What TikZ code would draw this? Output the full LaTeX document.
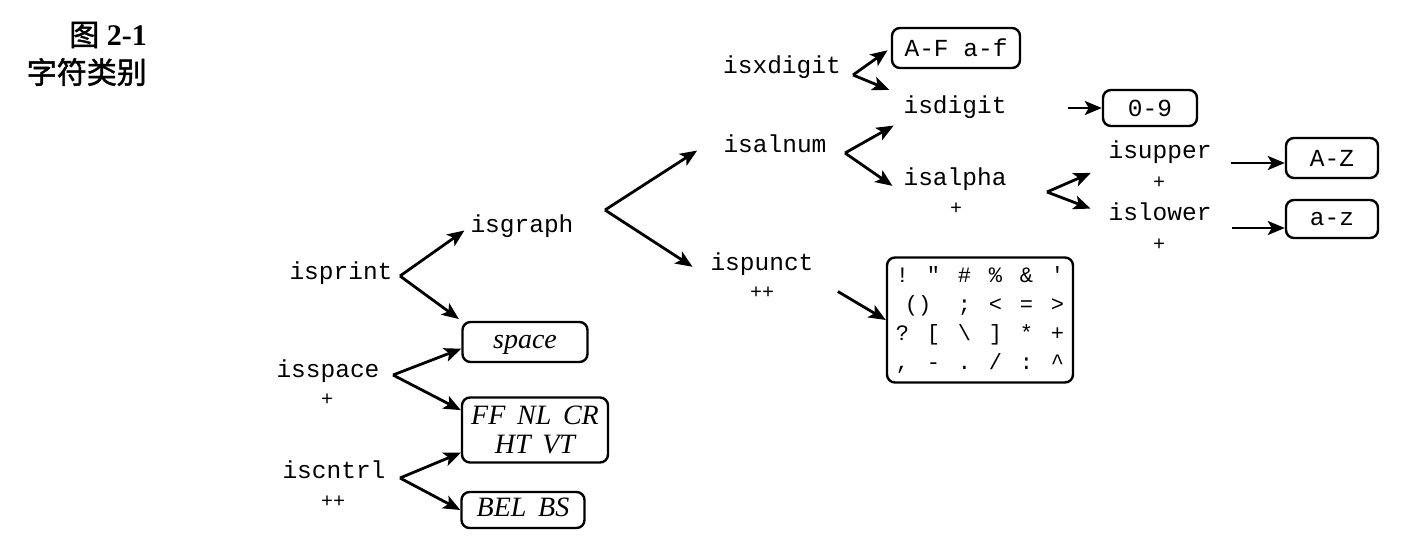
\documentclass[tikz,border=0pt]{standalone}
\usepackage{fontspec}
\setmainfont{Liberation Serif}
\setmonofont{Liberation Mono}
\newfontfamily\cjk[FakeBold=1.5]{Noto Sans CJK SC}
\usetikzlibrary{arrows.meta,calc}
\begin{document}
\begin{tikzpicture}[x=1pt,y=-1pt,
  lbl/.style={font=\ttfamily\fontsize{24.5}{28}\selectfont, inner sep=1pt, text height=17pt, text depth=6pt},
  plus/.style={font=\ttfamily\fontsize{20}{22}\selectfont, inner sep=0pt},
  rbox/.style={draw, line width=2.4pt, rounded corners=8pt, inner sep=0pt, align=center},
  monobox/.style={rbox, font=\ttfamily\fontsize{24.5}{28}\selectfont},
  itbox/.style={rbox, font=\itshape\fontsize{28}{29}\selectfont},
  oneline/.style={text height=19pt, text depth=6pt},
  arr/.style={-{Stealth[length=17pt,width=14pt,inset=4pt]}, line width=2.8pt, line join=miter},
  captext/.style={inner sep=0pt, anchor=east}
]
\useasboundingbox (0,0) rectangle (1414,550);

% caption
\node[captext, font=\fontsize{30}{32}\selectfont] (fig) at (147,35) {{\cjk 图} \textbf{2-1}};
\node[captext, font=\cjk\fontsize{30}{32}\selectfont] (title) at (147,72) {字符类别};

% labels
\node[lbl] (isprint) at (341,274) {isprint};
\node[lbl] (isgraph) at (522,227) {isgraph};
\node[lbl] (isspace) at (328,372) {isspace};
\node[plus] (pspace) at (327,400) {+};
\node[lbl] (iscntrl) at (334,473) {iscntrl};
\node[plus] (pcntrl) at (333,502) {++};
\node[lbl] (isxdigit) at (782,68) {isxdigit};
\node[lbl] (isalnum) at (775,147) {isalnum};
\node[lbl] (isdigit) at (955,108) {isdigit};
\node[lbl] (isalpha) at (955,180) {isalpha};
\node[plus] (palpha) at (956,209) {+};
\node[lbl] (isupper) at (1160,153) {isupper};
\node[plus] (pupper) at (1159,183) {+};
\node[lbl] (islower) at (1160,215) {islower};
\node[plus] (plower) at (1159,245) {+};
\node[lbl] (ispunct) at (762,265) {ispunct};
\node[plus] (ppunct) at (762,293) {++};

% boxes
\node[itbox, oneline, minimum width=125pt, minimum height=40pt] (space) at (525,342) {space};
\node[itbox, minimum width=146pt, minimum height=65pt] (ff) at (535,430) {FF\, NL\, CR\\HT\, VT};
\node[itbox, oneline, minimum width=123pt, minimum height=36pt] (bel) at (523,510) {BEL\, BS};
\node[monobox, minimum width=128pt, minimum height=40pt] (af) at (956,48) {A-F a-f};
\node[monobox, minimum width=94pt, minimum height=36pt] (d09) at (1150,108) {0-9};
\node[monobox, minimum width=92pt, minimum height=40pt] (AZ) at (1332,158) {A-Z};
\node[monobox, minimum width=92pt, minimum height=38pt] (az) at (1332,219) {a-z};
\newcommand{\pc}[1]{\makebox[31pt]{#1}}
\node[rbox, font=\ttfamily\fontsize{22}{29}\selectfont, minimum width=185pt, minimum height=125pt] (punct) at (980,320)
  {\pc{!}\pc{\textquotedbl}\pc{\#}\pc{\%}\pc{\&}\pc{\textquotesingle}\\
   \makebox[62pt]{()}\pc{;}\pc{<}\pc{=}\pc{>}\\
   \pc{?}\pc{[}\pc{\textbackslash}\pc{]}\pc{*}\pc{+}\\
   \pc{,}\pc{-}\pc{.}\pc{/}\pc{:}\pc{\textasciicircum}};

% branch vertices
\coordinate (vP) at (400,276);
\coordinate (vS) at (393,375);
\coordinate (vC) at (400,478);
\coordinate (vG) at (605,210);
\coordinate (vX) at (853,75);
\coordinate (vA) at (845,153);
\coordinate (vL) at (1047,192);

% connectors
\draw[arr, shorten >=6pt] (vP) -- (isgraph.west);
\draw[arr, shorten >=3pt] (vP) -- (space.north west);
\draw[arr] (vS) -- (space.186);
\draw[arr] (vS) -- (ff.165);
\draw[arr] (vC) -- (ff.197);
\draw[arr] (vC) -- (bel.west);
\draw[arr, shorten >=30pt] (vG) -- (isalnum.north west);
\draw[arr, shorten >=20pt] (vG) -- (ispunct.south west);
\draw[arr, shorten >=4pt] (vX) -- (af.west);
\draw[arr, shorten >=14pt] (vX) -- (isdigit.north west);
\draw[arr, shorten >=10pt] (vA) -- (isdigit.south west);
\draw[arr, shorten >=12pt] (vA) -- (isalpha.south west);
\draw[arr, shorten >=18pt] (vL) -- (isupper.south west);
\draw[arr, shorten >=18pt] (vL) -- (islower.west);
\draw[arr, shorten <=60pt] (isdigit.east) -- (d09.west);
\draw[arr, shorten <=18pt] ($(isupper.east |- AZ.west)+(0,5)$) -- ($(AZ.west)+(0,5)$);
\draw[arr, shorten <=19pt] ($(islower.east |- az.west)+(0,9)$) -- ($(az.west)+(0,9)$);
\draw[arr, shorten <=27pt] (ispunct.south east) -- (punct.west);
\end{tikzpicture}
\end{document}
